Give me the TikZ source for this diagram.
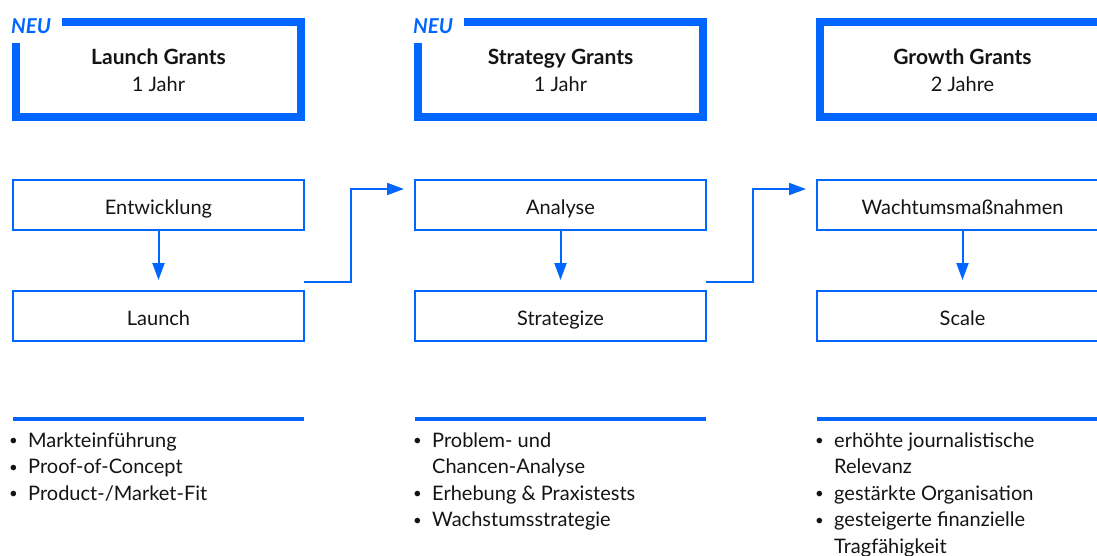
\documentclass[tikz,border=0pt]{standalone}
\usepackage{fontspec}
\setmainfont{Lato}
\usetikzlibrary{arrows.meta,calc}
\definecolor{brandblue}{RGB}{0,102,255}
\definecolor{ink}{RGB}{20,20,20}
\newlength\bind
\setlength\bind{20pt}
\newcommand\bitemx[1]{\hbox{\makebox[\bind][l]{\hskip1pt{\fontsize{15}{15}\selectfont\raisebox{1.5pt}{\textbullet}}}#1}}
\newcommand\bcont[1]{\hbox{\hskip\bind #1}}
\newcommand\blistx[1]{\vtop{\baselineskip=26.5pt #1}}
\tikzset{
  grantbox/.style={minimum width=285pt,minimum height=95pt,inner sep=0pt,outer sep=0pt},
  frame/.style={draw=brandblue,line width=8pt,line join=miter,line cap=butt},
  title/.style={anchor=base,font=\fontsize{21}{22}\selectfont\bfseries,text=ink,inner sep=0pt},
  sub/.style={anchor=base,font=\fontsize{20}{22}\selectfont,text=ink,inner sep=0pt},
  neu/.style={anchor=base west,font=\fontsize{20.5}{22}\selectfont\bfseries\itshape,text=brandblue,inner sep=0pt},
  stepbox/.style={draw=brandblue,line width=2pt,minimum width=291pt,minimum height=50pt,inner sep=0pt,outer sep=0pt,
    font=\fontsize{20}{22}\selectfont,text=ink,text height=18pt,text depth=0pt},
  arr/.style={draw=brandblue,line width=2pt,-{Triangle[length=17pt,width=12pt]}},
  bar/.style={draw=brandblue,line width=4pt},
  blist/.style={anchor=base west,inner sep=0pt,font=\fontsize{20}{22}\selectfont,text=ink}
}
\begin{document}
\begin{tikzpicture}[x=1pt,y=-1pt]
\useasboundingbox (0,0) rectangle (1097,555);
\clip (0,0) rectangle (1097,555);
% top grant boxes
\node[grantbox] (t1) at (158.5,69.5) {};
\node[grantbox] (t2) at (560.5,69.5) {};
\node[grantbox,draw=brandblue,line width=8pt] (t3) at (962.5,69.5) {};
\draw[frame] ($(t1.north west)+(46,0)$) -- (t1.north east) -- (t1.south east) -- (t1.south west) -- ($(t1.north west)+(0,21)$);
\draw[frame] ($(t2.north west)+(46,0)$) -- (t2.north east) -- (t2.south east) -- (t2.south west) -- ($(t2.north west)+(0,21)$);
\node[neu] (n1) at (11,33) {NEU};
\node[neu] (n2) at (413,33) {NEU};
\node[title] (g1) at (158.5,64) {Launch Grants};
\node[sub] (y1) at (158.5,91) {1 Jahr};
\node[title] (g2) at (560.5,64) {Strategy Grants};
\node[sub] (y2) at (560.5,91) {1 Jahr};
\node[title] (g3) at (962.5,64) {Growth Grants};
\node[sub] (y3) at (962.5,91) {2 Jahre};
% step boxes
\node[stepbox] (e1) at (158.5,205) {Entwicklung};
\node[stepbox] (l1) at (158.5,316) {Launch};
\node[stepbox] (e2) at (560.5,205) {Analyse};
\node[stepbox] (l2) at (560.5,316) {Strategize};
\node[stepbox] (e3) at (962.5,205) {Wachtumsmaßnahmen};
\node[stepbox] (l3) at (962.5,316) {Scale};
\draw[arr,shorten >=11pt] (e1) -- (l1);
\draw[arr,shorten >=11pt] (e2) -- (l2);
\draw[arr,shorten >=11pt] (e3) -- (l3);
% connectors
\coordinate (c1) at ($(l1.north east)+(0,-9)$);
\coordinate (k1) at ($(e2.west)+(-11,-16)$);
\coordinate (c2) at ($(l2.north east)+(0,-9)$);
\coordinate (k2) at ($(e3.west)+(-11,-16)$);
\draw[arr] (c1) -- ++(47,0) |- (k1);
\draw[arr] (c2) -- ++(47,0) |- (k2);
% bars
\draw[bar] (l1.west |- 0,419) -- (l1.east |- 0,419);
\draw[bar] (l2.west |- 0,419) -- (l2.east |- 0,419);
\draw[bar] (l3.west |- 0,419) -- (l3.east |- 0,419);
% lists
\node[blist] (b1) at (8,447) {\blistx{\bitemx{Markteinführung}\bitemx{Proof-of-Concept}\bitemx{Product-/Market-Fit}}};
\node[blist] (b2) at (412,447) {\blistx{\bitemx{Problem- und}\bcont{Chancen-Analyse}\bitemx{Erhebung \& Praxistests}\bitemx{Wachstumsstrategie}}};
\node[blist] (b3) at (814,447) {\blistx{\bitemx{erhöhte journalistische}\bcont{Relevanz}\bitemx{gestärkte Organisation}\bitemx{gesteigerte finanzielle}\bcont{Tragfähigkeit}}};
\end{tikzpicture}
\end{document}
